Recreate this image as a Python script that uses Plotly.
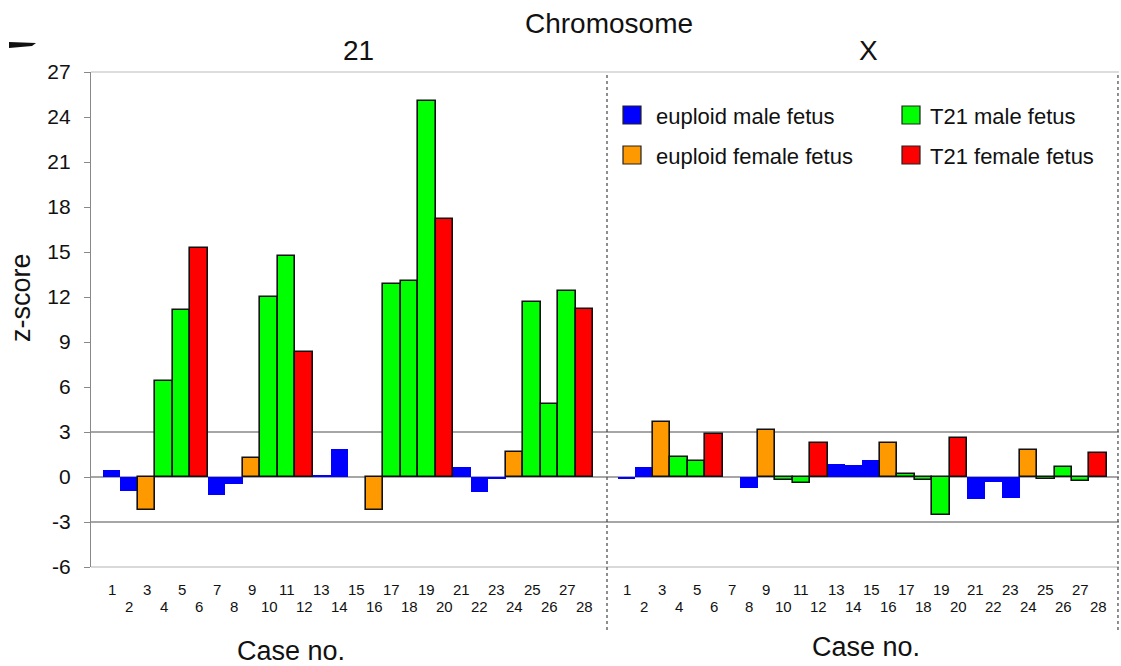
import plotly.graph_objects as go

cases = list(range(1, 29))
case_labels = [str(c) for c in cases]
case_group = ["em", "em", "ef", "tm", "tm", "tf", "em", "em", "ef", "tm", "tm", "tf", "em", "em",
              "em", "ef", "tm", "tm", "tm", "tf", "em", "em", "em", "ef", "tm", "tm", "tm", "tf"]
chr21_z = [0.45, -0.95, -2.2, 6.4, 11.15, 15.3, -1.2, -0.45, 1.3, 12.0, 14.75, 8.35, 0.15, 1.9,
           0.0, -2.2, 12.85, 13.1, 25.05, 17.2, 0.7, -1.0, -0.1, 1.7, 11.7, 4.9, 12.4, 11.2]
chrX_z = [-0.1, 0.64, 3.7, 1.35, 1.08, 2.9, 0.0, -0.73, 3.14, -0.2, -0.4, 2.26, 0.9, 0.82,
          1.13, 2.24, 0.18, -0.2, -2.54, 2.6, -1.48, -0.3, -1.37, 1.77, -0.1, 0.64, -0.27, 1.6]
group_names = {"em": "euploid male fetus", "ef": "euploid female fetus",
               "tm": "T21 male fetus", "tf": "T21 female fetus"}
group_colors = {"em": "#0000FF", "ef": "#FF9900", "tm": "#00FF00", "tf": "#FF0000"}
y_ticks = [-6, -3, 0, 3, 6, 9, 12, 15, 18, 21, 24, 27]

FONT = "Liberation Sans, Arial, sans-serif"
W, H = 1121, 666
L, R, T, B = 91, 2, 72, 99
PW, PH = W - L - R, H - T - B


def px(x):
    return (x - L) / PW


def py(y):
    return (H - B - y) / PH


D = px(607)

fig = go.Figure()
for vals, xa in [(chr21_z, "x"), (chrX_z, "x2")]:
    fig.add_trace(go.Bar(
        x=cases, y=vals, xaxis=xa, yaxis="y",
        marker=dict(color=[group_colors[g] for g in case_group],
                    line=dict(color=["rgba(0,0,0,0)" if g == "em" else "#111111" for g in case_group],
                              width=[0 if g == "em" else 1.6 for g in case_group])),
        showlegend=False, hoverinfo="x+y"))

fig.update_layout(
    width=W, height=H, margin=dict(l=L, r=R, t=T, b=B),
    paper_bgcolor="white", plot_bgcolor="white",
    bargap=0, font=dict(family=FONT, color="#111111"),
    xaxis=dict(domain=[0, D], range=[-0.17, 29.28], showticklabels=False, showgrid=False,
               zeroline=False, ticks=""),
    xaxis2=dict(domain=[D, 1], range=[-0.13, 29.19], showticklabels=False, showgrid=False,
                zeroline=False, ticks="", anchor="y"),
    yaxis=dict(range=[-6, 27], tickvals=y_ticks, ticktext=[str(v) for v in y_ticks],
               ticks="outside", ticklen=6, tickcolor="#888888", showline=True, linecolor="#888888",
               linewidth=1.2, showgrid=False, zeroline=False, tickfont=dict(size=21, color="#111111"),
               ticklabelstandoff=9),
)

shapes = []
for yv in [3, 0, -3]:
    shapes.append(dict(type="line", xref="paper", yref="y", x0=0, x1=1, y0=yv, y1=yv,
                       line=dict(color="#888888", width=1.3), layer="below"))
shapes.append(dict(type="line", xref="paper", yref="paper", x0=0, x1=1, y0=1, y1=1,
                   line=dict(color="#BBBBBB", width=1.2)))
shapes.append(dict(type="line", xref="paper", yref="paper", x0=0, x1=1, y0=0, y1=0,
                   line=dict(color="#CCCCCC", width=1.5)))
for xv in [D, 0.999]:
    shapes.append(dict(type="line", xref="paper", yref="paper", x0=xv, x1=xv, y0=py(630), y1=1,
                       line=dict(color="#444444", width=1.2, dash="dot")))
# stray mark top-left
shapes.append(dict(type="path", xref="paper", yref="paper",
                   path=f"M {px(9)},{py(42)} L {px(36)},{py(43)} L {px(32)},{py(46)} L {px(9)},{py(48)} Z",
                   fillcolor="#111111", line=dict(width=0)))

annotations = [
    dict(text="Chromosome", x=px(609), y=py(23), xref="paper", yref="paper", showarrow=False,
         font=dict(size=28), xanchor="center", yanchor="middle"),
    dict(text="21", x=px(358), y=py(51), xref="paper", yref="paper", showarrow=False,
         font=dict(size=28), xanchor="center", yanchor="middle"),
    dict(text="X", x=px(868), y=py(51), xref="paper", yref="paper", showarrow=False,
         font=dict(size=28), xanchor="center", yanchor="middle"),
    dict(text="z-score", x=px(21), y=py(298), xref="paper", yref="paper", showarrow=False,
         font=dict(size=27), xanchor="center", yanchor="middle", textangle=-90),
    dict(text="Case no.", x=px(291), y=py(651), xref="paper", yref="paper", showarrow=False,
         font=dict(size=27), xanchor="center", yanchor="middle"),
    dict(text="Case no.", x=px(866), y=py(647), xref="paper", yref="paper", showarrow=False,
         font=dict(size=27), xanchor="center", yanchor="middle"),
]
for xa in ["x", "x2"]:
    for c, lab in zip(cases, case_labels):
        annotations.append(dict(text=lab, x=c, y=py(589 if c % 2 else 606), xref=xa, yref="paper",
                                showarrow=False, font=dict(size=15), xanchor="center", yanchor="middle"))

legend_items = [("em", 623, 115), ("ef", 623, 155), ("tm", 902, 115), ("tf", 902, 155)]
for g, lx, ly in legend_items:
    shapes.append(dict(type="rect", xref="paper", yref="paper", x0=px(lx), x1=px(lx + 18),
                       y0=py(ly - 9), y1=py(ly + 9), fillcolor=group_colors[g],
                       line=dict(color="#222222", width=1.2)))
    tx = lx + 31 if g in ("em", "ef") else lx + 26
    annotations.append(dict(text=group_names[g], x=px(tx), y=py(ly + 1), xref="paper", yref="paper",
                            showarrow=False, font=dict(size=22), xanchor="left", yanchor="middle"))

fig.update_layout(shapes=shapes, annotations=annotations)
fig.write_html("out.html", post_script="document.body.style.margin='0';",
               config={"displayModeBar": False})
